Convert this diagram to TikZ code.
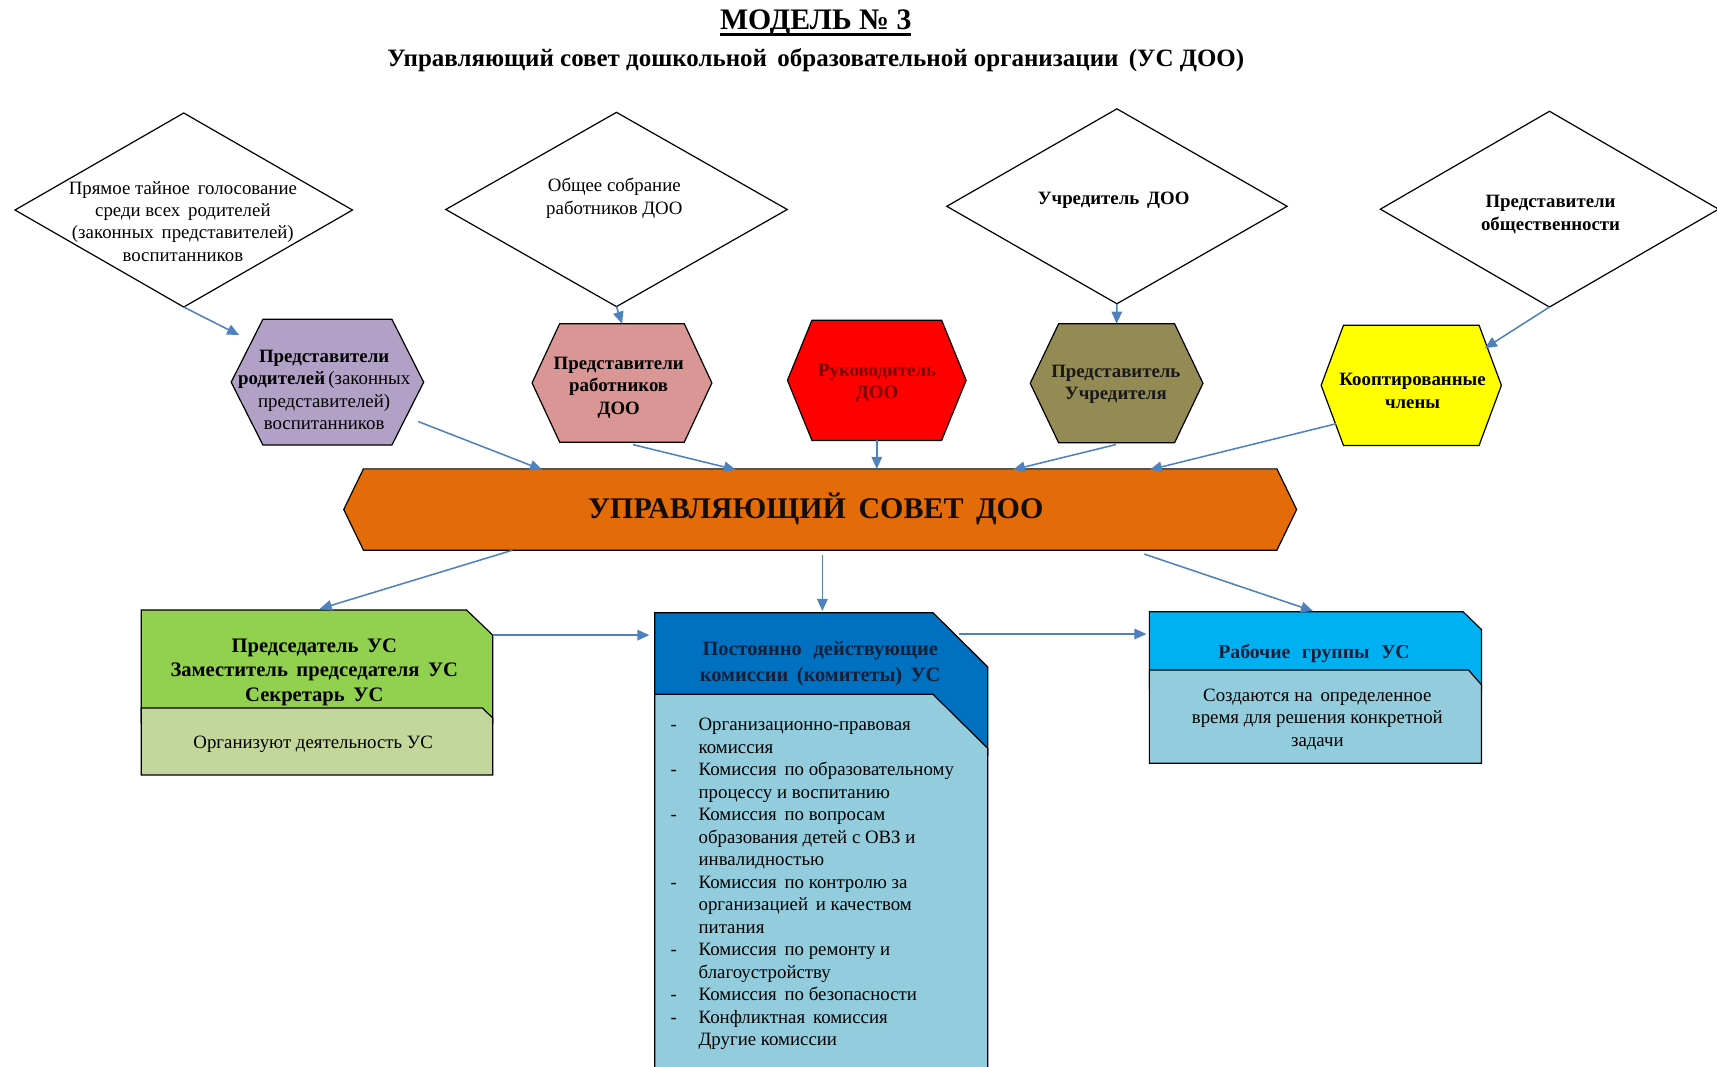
\documentclass[tikz,border=0pt]{standalone}
\usepackage{fontspec}
\setmainfont{Liberation Serif}
\usetikzlibrary{arrows.meta,calc}
\definecolor{arrc}{HTML}{4F81BD}
\definecolor{hpurple}{HTML}{B2A1C7}
\definecolor{hpink}{HTML}{D99694}
\definecolor{hred}{HTML}{FF0000}
\definecolor{holive}{HTML}{948A54}
\definecolor{hyellow}{HTML}{FFFF00}
\definecolor{banner}{HTML}{E36C09}
\definecolor{gtop}{HTML}{92D050}
\definecolor{glow}{HTML}{C3D69B}
\definecolor{btop}{HTML}{0070C0}
\definecolor{blow}{HTML}{93CDDD}
\definecolor{ctop}{HTML}{00B0F0}
\definecolor{maroon}{HTML}{7B0000}
\definecolor{navytxt}{HTML}{14203A}
\newsavebox\ttlbox
\tikzset{
  x=0.5pt, y=-0.5pt,
  outl/.style={draw=black, line width=0.55pt},
  arr/.style={draw=arrc, line width=0.7pt, -{Triangle[length=5.5pt,width=4.8pt]}},
  shp/.style={inner sep=0pt, draw=none},
  reg/.style={align=center, inner sep=0pt, font=\fontsize{8.6}{10.2}\selectfont},
  bld/.style={align=center, inner sep=0pt, font=\fontsize{8.6}{10.2}\selectfont\bfseries},
  lst/.style={anchor=base west, inner sep=0pt, font=\fontsize{8.6}{10.2}\selectfont},
}
\newcommand\myhex[6]{%
  \node[shp, minimum width=#3, minimum height=#4] (#1) at #2 {};
  \path[outl, fill=#6] (#1.west) -- ([xshift=#5]#1.north west) -- ([xshift=-#5]#1.north east)
    -- (#1.east) -- ([xshift=-#5]#1.south east) -- ([xshift=#5]#1.south west) -- cycle;
}
\newcommand\mydia[4]{%
  \node[shp, minimum width=#3, minimum height=#4] (#1) at #2 {};
  \path[outl, fill=white] (#1.west) -- (#1.north) -- (#1.east) -- (#1.south) -- cycle;
}
\newcommand\dsh{\llap{\makebox[12.8pt][l]{-}}}
\begin{document}
\begin{tikzpicture}
\useasboundingbox (0,0) rectangle (1568,974.4);
\fill[white] (0,0) rectangle (1568,974.4);

% title
\node[inner sep=0pt, font=\fontsize{13.6}{16}\selectfont\bfseries] (title) at (745,21) {\sbox\ttlbox{МОДЕЛЬ № 3}\rlap{\usebox\ttlbox}\rule[-2.8pt]{\wd\ttlbox}{1.2pt}};
\node[inner sep=0pt, font=\fontsize{11.4}{13}\selectfont\bfseries] (sub) at (745,55) {Управляющий совет дошкольной\, образовательной организации\, (УС ДОО)};

% diamonds
\mydia{d1}{(167.8,191.8)}{153.7pt}{88.2pt}
\mydia{d2}{(563,191.3)}{155.5pt}{88.3pt}
\mydia{d3}{(1020,188.4)}{155pt}{88.6pt}
\mydia{d4}{(1415,191)}{154pt}{89pt}
\node[reg] (d1t) at (167,202) {Прямое тайное\, голосование\\среди всех\, родителей\\(законных\, представителей)\\воспитанников};
\node[reg] (d2t) at (561,181) {Общее собрание\\работников ДОО};
\node[bld] (d3t) at (1017,183) {Учредитель\, ДОО};
\node[bld] (d4t) at (1416,196) {Представители\\общественности};

% hexagons
\myhex{h1}{(299,349)}{87.5pt}{57pt}{14.5pt}{hpurple}
\myhex{h2}{(568,349.7)}{81.7pt}{53.7pt}{12.6pt}{hpink}
\myhex{h3}{(800.7,347.3)}{81.2pt}{54.5pt}{11.2pt}{hred}
\myhex{h4}{(1019.7,350)}{78.5pt}{54pt}{13pt}{holive}
\myhex{h5}{(1288.8,351.9)}{81.9pt}{54.5pt}{10.2pt}{hyellow}
\node[reg] (h1t) at (296,356) {\textbf{Представители}\\\textbf{родителей}\,(законных\\представителей)\\воспитанников};
\node[bld] (h2t) at (565,354) {Представители\\работников\\ДОО};
\node[bld, text=maroon] (h3t) at (801,350) {Руководитель\\ДОО};
\node[bld, text=black!90] (h4t) at (1019,351) {Представитель\\Учредителя};
\node[bld] (h5t) at (1290,357) {Кооптированные\\члены};

% banner
\myhex{ban}{(749,465.3)}{434.7pt}{36.7pt}{9pt}{banner}
\node[inner sep=0pt, font=\fontsize{13.7}{15}\selectfont\bfseries, text=black!90!brown] (bant) at (745,465) {УПРАВЛЯЮЩИЙ\, СОВЕТ\, ДОО};

% green box
\coordinate (g-e) at (450,580);
\path[outl, fill=gtop] (129,557) -- (426,557) -- (450,580) -- (450,660) -- (129,660) -- cycle;
\path[outl, fill=glow] (129,646.6) -- (440.6,646.6) -- (450,655.7) -- (450,707.7) -- (129,707.7) -- cycle;
\node[inner sep=0pt, align=center, font=\fontsize{9.4}{11.3}\selectfont\bfseries] (gt) at (287,614) {Председатель\, УС\\Заместитель\, председателя\, УС\\Секретарь\, УС};
\node[reg] (gl) at (286,680) {Организуют деятельность УС};

% blue box
\path[outl, fill=btop] (598,559.5) -- (852,559.5) -- (902,609) -- (902,690) -- (598,690) -- cycle;
\path[outl, fill=blow] (598,634) -- (852,634) -- (902,683.4) -- (902,990) -- (598,990) -- cycle;
\node[inner sep=0pt, align=center, text=navytxt, font=\fontsize{9.3}{12.2}\selectfont\bfseries] (bt) at (749,606) {Постоянно\,\, действующие\\комиссии\, (комитеты)\, УС};
\foreach \t [count=\i] in {{\dsh Организационно-правовая},{комиссия},{\dsh Комиссия\, по образовательному},{процессу и воспитанию},{\dsh Комиссия\, по вопросам},{образования детей с ОВЗ и},{инвалидностью},{\dsh Комиссия\, по контролю за},{организацией\, и качеством},{питания},{\dsh Комиссия\, по ремонту и},{благоустройству},{\dsh Комиссия\, по безопасности},{\dsh Конфликтная\, комиссия},{Другие комиссии}}
  \node[lst] (l\i) at (637.6,{667.3+20.55*(\i-1)}) {\t};

% working groups
\path[outl, fill=ctop] (1049.6,558.6) -- (1336,558.6) -- (1353,575) -- (1353,630) -- (1049.6,630) -- cycle;
\path[outl, fill=blow] (1049.6,611.8) -- (1341,611.8) -- (1353,625.5) -- (1353,697) -- (1049.6,697) -- cycle;
\node[inner sep=0pt, align=center, text=navytxt, font=\fontsize{9}{10.2}\selectfont\bfseries] (wt) at (1200,597) {Рабочие\,\, группы\,\, УС};
\node[reg] (wl) at (1203,657) {Создаются на\, определенное\\время для решения конкретной\\задачи};

% connector end points
\coordinate (a1e) at (218.4,306);
\coordinate (a4e) at (1356,318);
\coordinate (a5s) at (382,385);   \coordinate (a5e) at (495,429);
\coordinate (a6s) at (578,406);   \coordinate (a6e) at (672,429);
\coordinate (a8s) at (1019,406);  \coordinate (a8e) at (925,429);
\coordinate (a9s) at (1220,387);  \coordinate (a9e) at (1050,429);
\coordinate (a10s) at (468,502.5); \coordinate (a10e) at (292,556);
\coordinate (a11s) at (751,507);  \coordinate (a11e) at (751,558);
\coordinate (a12s) at (1045,506); \coordinate (a12e) at (1199,558);
\coordinate (a13e) at (593,580);
\coordinate (a14s) at (876,579);  \coordinate (a14e) at (1047,579);

\draw[arr] (d1.south) -- (a1e);
\draw[arr] (d2.south) -- (h2.north);
\draw[arr] (d3.south) -- (h4.north);
\draw[arr] (d4.south) -- (a4e);
\draw[arr] (a5s) -- (a5e);
\draw[arr] (a6s) -- (a6e);
\draw[arr] (h3.south) -- (h3.south |- ban.north);
\draw[arr] (a8s) -- (a8e);
\draw[arr] (a9s) -- (a9e);
\draw[arr] (a10s) -- (a10e);
\draw[arr] (a11s) -- (a11e);
\draw[arr] (a12s) -- (a12e);
\draw[arr] (g-e) -- (a13e);
\draw[arr] (a14s) -- (a14e);
\end{tikzpicture}
\end{document}
